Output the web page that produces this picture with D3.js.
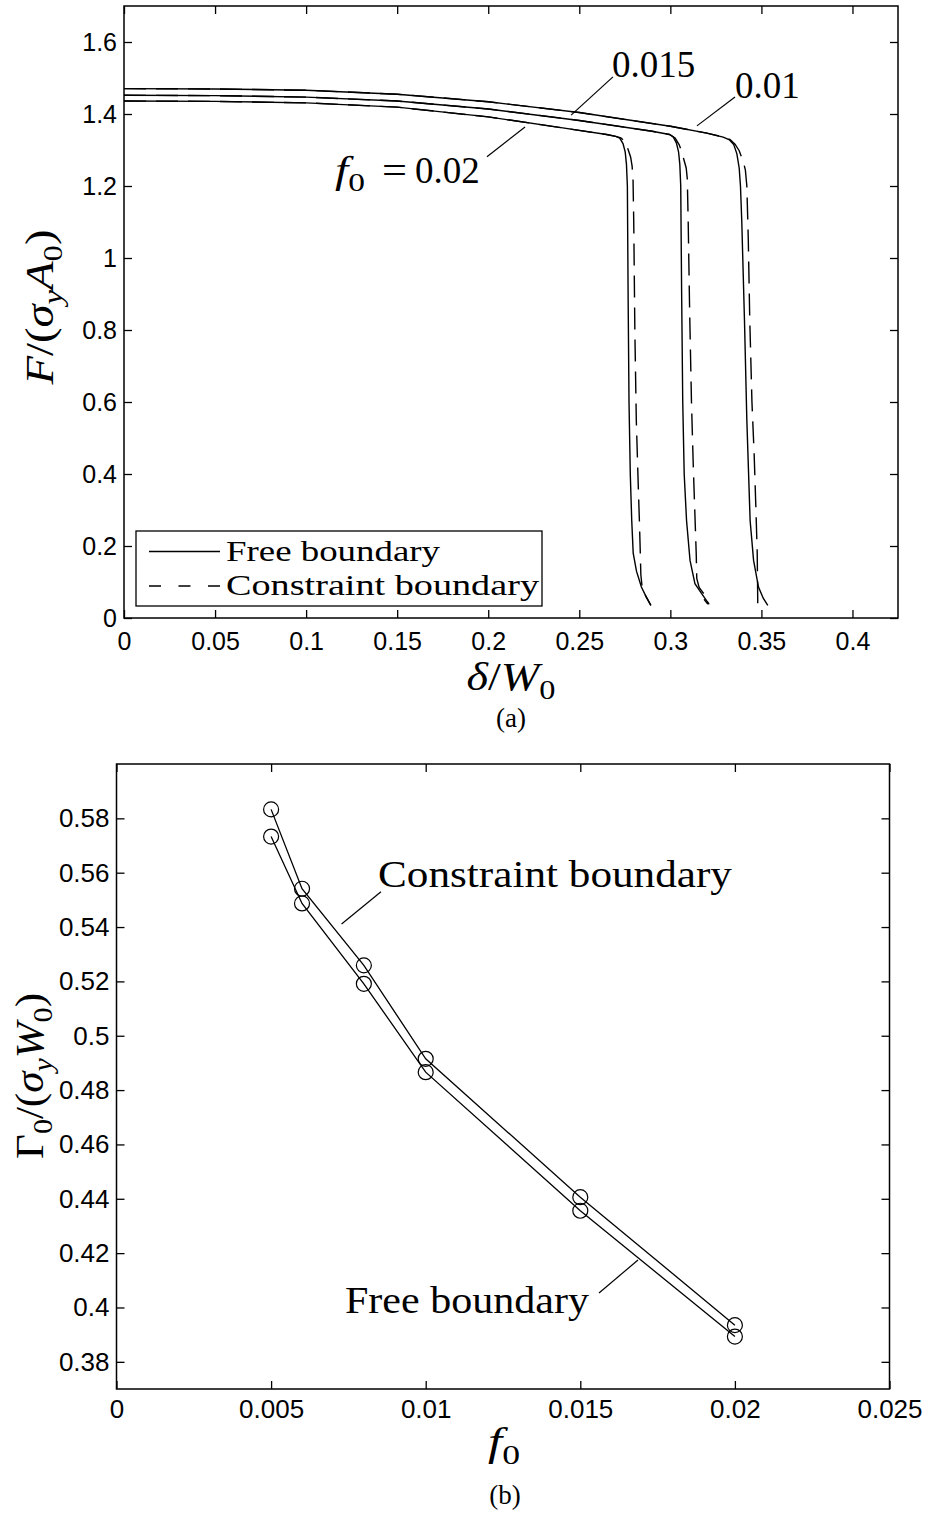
<!DOCTYPE html>
<html>
<head>
<meta charset="utf-8">
<script src="https://cdn.jsdelivr.net/npm/d3@7"></script>
<style>
  body { margin: 0; background: #fff; }
  svg { display: block; }
</style>
</head>
<body>
<script>
// ---- panel (a): load-displacement curves, [delta/W0, F/(sy A0)] ----
var free002 = [[0,1.436],[0.05,1.435],[0.1,1.431],[0.15,1.419],[0.2,1.392],[0.24,1.362],[0.265,1.343],
  [0.27,1.338],[0.2722,1.333],[0.274,1.318],[0.2752,1.295],[0.2759,1.26],[0.2764,1.2],[0.2768,0.9],
  [0.2773,0.6],[0.2780,0.4],[0.2788,0.27],[0.2796,0.18],[0.2814,0.13],[0.2841,0.086],[0.2866,0.06],[0.2893,0.035]];
var constraint002 = [[0,1.436],[0.05,1.435],[0.1,1.431],[0.15,1.419],[0.2,1.392],[0.24,1.362],[0.265,1.343],
  [0.27,1.338],[0.2728,1.334],[0.2752,1.323],[0.2769,1.30],[0.2782,1.28],[0.2790,1.255],[0.2795,1.22],
  [0.2799,1.1],[0.2805,0.8],[0.2813,0.55],[0.2823,0.38],[0.2830,0.27],[0.2835,0.18],[0.2838,0.12],
  [0.2845,0.086],[0.2866,0.06],[0.2893,0.035]];

var free0015 = [[0,1.452],[0.05,1.451],[0.1,1.447],[0.15,1.436],[0.2,1.414],[0.25,1.382],[0.29,1.352],
  [0.2995,1.343],[0.3015,1.337],[0.3033,1.32],[0.3045,1.295],[0.3052,1.26],[0.3057,1.2],[0.3062,0.9],
  [0.3068,0.6],[0.3076,0.4],[0.3089,0.27],[0.3108,0.16],[0.3135,0.0955],[0.3172,0.068],[0.3213,0.038]];
var constraint0015 = [[0,1.452],[0.05,1.451],[0.1,1.447],[0.15,1.436],[0.2,1.414],[0.25,1.382],[0.29,1.352],
  [0.2995,1.343],[0.3026,1.333],[0.3048,1.315],[0.3063,1.295],[0.3076,1.27],[0.3087,1.25],[0.3093,1.22],
  [0.3098,1.1],[0.3106,0.85],[0.3116,0.6],[0.3126,0.42],[0.3136,0.27],[0.3142,0.18],[0.3145,0.11],
  [0.3158,0.085],[0.3180,0.07],[0.3200,0.057],[0.3210,0.046],[0.3203,0.040],[0.3185,0.052]];

var free001 = [[0,1.4706],[0.05,1.4695],[0.1,1.466],[0.15,1.455],[0.2,1.434],[0.25,1.404],[0.3,1.366],
  [0.32,1.347],[0.329,1.336],[0.3325,1.328],[0.3348,1.315],[0.3365,1.29],[0.3378,1.25],[0.3385,1.2],
  [0.3392,1.105],[0.3407,0.827],[0.3420,0.549],[0.3438,0.271],[0.3457,0.16],[0.3484,0.086],[0.3510,0.055],[0.3535,0.035]];
var constraint001 = [[0,1.4706],[0.05,1.4695],[0.1,1.466],[0.15,1.455],[0.2,1.434],[0.25,1.404],[0.3,1.366],
  [0.32,1.347],[0.329,1.336],[0.3328,1.329],[0.3355,1.316],[0.3378,1.298],[0.3401,1.267],[0.3412,1.244],
  [0.3420,1.2],[0.3428,1.05],[0.3436,0.83],[0.3448,0.6],[0.3460,0.457],[0.3470,0.3],[0.3477,0.18],[0.3480,0.04]];

var xTicksA = [0, 0.05, 0.1, 0.15, 0.2, 0.25, 0.3, 0.35, 0.4];
var yTicksA = [0, 0.2, 0.4, 0.6, 0.8, 1, 1.2, 1.4, 1.6];

// ---- panel (b): fracture energy vs f0 ----
var f0Values = [0.005, 0.006, 0.008, 0.01, 0.015, 0.02];
var gammaConstraint = [0.5833, 0.5541, 0.5259, 0.4915, 0.4406, 0.3935];
var gammaFree = [0.5733, 0.5487, 0.5191, 0.4866, 0.4356, 0.3893];

var xTicksB = [0, 0.005, 0.01, 0.015, 0.02, 0.025];
var yTicksB = [0.38, 0.4, 0.42, 0.44, 0.46, 0.48, 0.5, 0.52, 0.54, 0.56, 0.58];

var serif = "'Liberation Serif','Times New Roman',Times,serif";
var sans = "'Liberation Sans',Arial,Helvetica,sans-serif";
var tickFmt = d3.format("~g");

var svg = d3.select("body").append("svg")
    .attr("width", 928)
    .attr("height", 1515)
    .style("background", "#fff");

// math-ish text built from tspans; sub parts are lowered and shrunk
function addMath(parent, parts, size) {
    var t = parent.append("text")
        .attr("font-family", serif)
        .attr("font-size", size)
        .attr("fill", "#000");
    var shift = 0;
    parts.forEach(function(p) {
        var ts = t.append("tspan").text(p.t);
        if (p.it) ts.attr("font-style", "italic");
        var target = p.sub ? size * 0.22 : 0;
        if (target !== shift) {
            ts.attr("dy", target - shift);
            shift = target;
        }
        if (p.sub) ts.attr("font-size", size * 0.7);
    });
    return t;
}

function drawFrame(x, y, xTicks, yTicks, xPad, fs) {
    var x0 = x.range()[0], x1 = x.range()[1];
    var y0 = y.range()[0], y1 = y.range()[1];
    var g = svg.append("g");

    var axes = [
        { ax: d3.axisBottom(x).tickValues(xTicks).tickFormat(tickFmt).tickPadding(xPad), tr: [0, y0] },
        { ax: d3.axisTop(x).tickValues(xTicks).tickFormat(""), tr: [0, y1] },
        { ax: d3.axisLeft(y).tickValues(yTicks).tickFormat(tickFmt).tickPadding(7), tr: [x0, 0] },
        { ax: d3.axisRight(y).tickValues(yTicks).tickFormat(""), tr: [x1, 0] }
    ];
    axes.forEach(function(a) {
        var ag = g.append("g")
            .attr("transform", "translate(" + a.tr[0] + "," + a.tr[1] + ")")
            .call(a.ax.tickSizeInner(-8).tickSizeOuter(0));
        ag.select(".domain").remove();
        ag.selectAll(".tick line").attr("stroke", "#000").attr("stroke-width", 1.3);
        ag.selectAll(".tick text")
            .attr("font-family", sans)
            .attr("font-size", fs)
            .attr("fill", "#000");
    });

    g.append("rect")
        .attr("x", x0).attr("y", y1)
        .attr("width", x1 - x0).attr("height", y0 - y1)
        .attr("fill", "none")
        .attr("stroke", "#000")
        .attr("stroke-width", 1.5);
    return g;
}

// ================= panel (a) =================
var xA = d3.scaleLinear().domain([0, 0.425]).range([124, 898]);
var yA = d3.scaleLinear().domain([0, 1.7]).range([618, 6]);

var lineA = d3.line()
    .x(function(d) { return xA(d[0]); })
    .y(function(d) { return yA(d[1]); });

var curvesA = [
    { data: constraint002, dash: true }, { data: constraint0015, dash: true }, { data: constraint001, dash: true },
    { data: free002, dash: false }, { data: free0015, dash: false }, { data: free001, dash: false }
];

svg.append("g").selectAll("path")
    .data(curvesA)
    .enter()
    .append("path")
    .attr("d", function(d) { return lineA(d.data); })
    .attr("fill", "none")
    .attr("stroke", "#000")
    .attr("stroke-width", 1.4)
    .attr("stroke-dasharray", function(d) { return d.dash ? "22,10" : null; });

drawFrame(xA, yA, xTicksA, yTicksA, 14, 25);

// curve labels and leader lines (data coordinates)
var leadersA = [
    [[0.2685, 1.503], [0.2455, 1.397]],
    [[0.3355, 1.447], [0.3146, 1.367]],
    [[0.1993, 1.281], [0.2202, 1.364]]
];
svg.append("g").selectAll("line")
    .data(leadersA)
    .enter()
    .append("line")
    .attr("x1", function(d) { return xA(d[0][0]); })
    .attr("y1", function(d) { return yA(d[0][1]); })
    .attr("x2", function(d) { return xA(d[1][0]); })
    .attr("y2", function(d) { return yA(d[1][1]); })
    .attr("stroke", "#000")
    .attr("stroke-width", 1.2);

svg.append("text")
    .attr("x", xA(0.268)).attr("y", yA(1.503))
    .attr("font-family", serif).attr("font-size", 37)
    .text("0.015");
svg.append("text")
    .attr("x", xA(0.3355)).attr("y", yA(1.444))
    .attr("font-family", serif).attr("font-size", 37)
    .text("0.01");
addMath(svg, [{ t: "f", it: true }, { t: "0", sub: true }], 37)
    .attr("x", xA(0.1159)).attr("y", yA(1.208))
    .attr("textLength", 30).attr("lengthAdjust", "spacingAndGlyphs");
svg.append("text")
    .attr("x", xA(0.1417)).attr("y", yA(1.208))
    .attr("font-family", serif).attr("font-size", 37)
    .attr("textLength", 25).attr("lengthAdjust", "spacingAndGlyphs")
    .text("=");
svg.append("text")
    .attr("x", xA(0.1598)).attr("y", yA(1.208))
    .attr("font-family", serif).attr("font-size", 37)
    .text("0.02");

// legend
var legend = svg.append("g");
legend.append("rect")
    .attr("x", 136).attr("y", 531)
    .attr("width", 406).attr("height", 75)
    .attr("fill", "#fff")
    .attr("stroke", "#000")
    .attr("stroke-width", 1.3);
var legendItems = [
    { label: "Free boundary", dash: null, y: 551.5, ty: 561, len: 214 },
    { label: "Constraint boundary", dash: "12,17.5", y: 586, ty: 595, len: 313 }
];
legend.selectAll(".li")
    .data(legendItems)
    .enter()
    .append("line")
    .attr("x1", 149).attr("x2", 220)
    .attr("y1", function(d) { return d.y; })
    .attr("y2", function(d) { return d.y; })
    .attr("stroke", "#000")
    .attr("stroke-width", 1.4)
    .attr("stroke-dasharray", function(d) { return d.dash; });
legend.selectAll(".lt")
    .data(legendItems)
    .enter()
    .append("text")
    .attr("x", 226)
    .attr("y", function(d) { return d.ty; })
    .attr("font-family", serif)
    .attr("font-size", 30)
    .attr("textLength", function(d) { return d.len; })
    .attr("lengthAdjust", "spacingAndGlyphs")
    .text(function(d) { return d.label; });

// axis labels (a)
addMath(svg, [{ t: "δ", it: true }, { t: "/" }, { t: "W", it: true }, { t: "0", sub: true }], 39)
    .attr("x", 511).attr("y", 690)
    .attr("text-anchor", "middle")
    .attr("textLength", 89).attr("lengthAdjust", "spacingAndGlyphs");
addMath(svg, [{ t: "F", it: true }, { t: "/(" }, { t: "σ", it: true }, { t: "y", it: true, sub: true },
        { t: "A", it: true }, { t: "0", sub: true }, { t: ")" }], 39)
    .attr("text-anchor", "middle")
    .attr("textLength", 155).attr("lengthAdjust", "spacingAndGlyphs")
    .attr("transform", "translate(53,307) rotate(-90)");
svg.append("text")
    .attr("x", 511).attr("y", 727)
    .attr("text-anchor", "middle")
    .attr("font-family", serif).attr("font-size", 27)
    .text("(a)");

// ================= panel (b) =================
var xB = d3.scaleLinear().domain([0, 0.025]).range([116.5, 889.5]);
var yB = d3.scaleLinear().domain([0.37, 0.6]).range([1389, 764]);

var seriesB = [
    { name: "Constraint boundary", values: gammaConstraint },
    { name: "Free boundary", values: gammaFree }
];

var lineB = d3.line()
    .x(function(d, i) { return xB(f0Values[i]); })
    .y(function(d) { return yB(d); });

var gB = svg.append("g");
gB.selectAll("path")
    .data(seriesB)
    .enter()
    .append("path")
    .attr("d", function(d) { return lineB(d.values); })
    .attr("fill", "none")
    .attr("stroke", "#000")
    .attr("stroke-width", 1.3);

seriesB.forEach(function(s) {
    gB.append("g").selectAll("circle")
        .data(s.values)
        .enter()
        .append("circle")
        .attr("cx", function(d, i) { return xB(f0Values[i]); })
        .attr("cy", function(d) { return yB(d); })
        .attr("r", 7.5)
        .attr("fill", "none")
        .attr("stroke", "#000")
        .attr("stroke-width", 1.2);
});

drawFrame(xB, yB, xTicksB, yTicksB, 11, 26);

var leadersB = [
    [[0.008554, 0.5530], [0.007280, 0.5411]],
    [[0.015605, 0.40533], [0.016866, 0.41747]]
];
svg.append("g").selectAll("line")
    .data(leadersB)
    .enter()
    .append("line")
    .attr("x1", function(d) { return xB(d[0][0]); })
    .attr("y1", function(d) { return yB(d[0][1]); })
    .attr("x2", function(d) { return xB(d[1][0]); })
    .attr("y2", function(d) { return yB(d[1][1]); })
    .attr("stroke", "#000")
    .attr("stroke-width", 1.2);

svg.append("text")
    .attr("x", xB(0.008457)).attr("y", yB(0.5547))
    .attr("font-family", serif).attr("font-size", 38)
    .attr("textLength", 354).attr("lengthAdjust", "spacingAndGlyphs")
    .text("Constraint boundary");
svg.append("text")
    .attr("x", xB(0.00739)).attr("y", yB(0.398))
    .attr("font-family", serif).attr("font-size", 38)
    .attr("textLength", 244).attr("lengthAdjust", "spacingAndGlyphs")
    .text("Free boundary");

// axis labels (b)
addMath(svg, [{ t: "f", it: true }, { t: "0", sub: true }], 39)
    .attr("x", 504).attr("y", 1455)
    .attr("text-anchor", "middle")
    .attr("textLength", 32).attr("lengthAdjust", "spacingAndGlyphs");
addMath(svg, [{ t: "Γ" }, { t: "0", sub: true }, { t: "/(" }, { t: "σ", it: true }, { t: "y", it: true, sub: true },
        { t: "W", it: true }, { t: "0", sub: true }, { t: ")" }], 39)
    .attr("text-anchor", "middle")
    .attr("textLength", 166).attr("lengthAdjust", "spacingAndGlyphs")
    .attr("transform", "translate(43,1076) rotate(-90)");
svg.append("text")
    .attr("x", 505).attr("y", 1504)
    .attr("text-anchor", "middle")
    .attr("font-family", serif).attr("font-size", 27)
    .text("(b)");
</script>
</body>
</html>
